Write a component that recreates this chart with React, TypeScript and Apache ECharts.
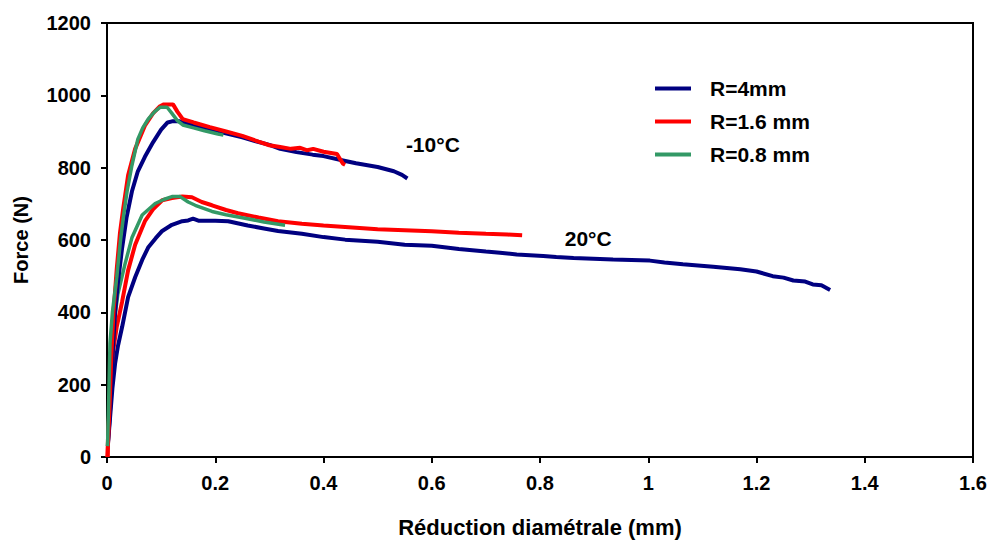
import React, { useEffect, useRef } from "react";
import * as echarts from "echarts";

const xTicks = { min: 0, max: 1.6, interval: 0.2 };
const yTicks = { min: 0, max: 1200, interval: 200 };

const legendNames = ["R=4mm", "R=1.6 mm", "R=0.8 mm"];
const colors = ["#000080", "#ff0000", "#339966"];

// -10°C curves
const blueMinus10: number[][] = [
  [0.002, 45], [0.005, 110], [0.008, 200], [0.011, 300], [0.015, 400], [0.02, 480],
  [0.028, 579], [0.036, 661], [0.046, 734], [0.057, 790], [0.07, 830], [0.085, 870],
  [0.1, 905], [0.112, 925], [0.12, 928], [0.135, 928], [0.15, 922], [0.175, 912],
  [0.2, 902], [0.225, 893], [0.25, 884], [0.275, 873], [0.3, 863], [0.32, 852],
  [0.35, 843], [0.38, 836], [0.4, 832], [0.436, 820], [0.46, 812], [0.5, 802],
  [0.53, 790], [0.545, 780], [0.555, 770],
];
const redMinus10: number[][] = [
  [0.001, 0], [0.002, 40], [0.005, 150], [0.008, 280], [0.012, 400], [0.018, 520],
  [0.024, 620], [0.03, 688], [0.039, 779], [0.052, 852], [0.07, 916], [0.085, 950],
  [0.098, 970], [0.105, 975], [0.122, 975], [0.13, 955], [0.14, 934], [0.16, 925],
  [0.19, 912], [0.22, 900], [0.25, 888], [0.28, 872], [0.3, 862], [0.32, 857],
  [0.34, 852], [0.357, 855], [0.37, 848], [0.381, 852], [0.4, 844], [0.425, 838],
  [0.43, 825], [0.436, 811], [0.44, 808],
];
const greenMinus10: number[][] = [
  [0.001, 30], [0.003, 150], [0.0055, 314], [0.01, 400], [0.018, 497], [0.025, 600],
  [0.03, 660], [0.037, 734], [0.046, 806], [0.057, 879], [0.066, 910], [0.076, 934],
  [0.088, 955], [0.098, 967], [0.111, 967], [0.12, 950], [0.13, 930], [0.14, 918],
  [0.16, 910], [0.18, 902], [0.205, 893], [0.215, 890],
];

// 20°C curves
const blue20: number[][] = [
  [0.002, 40], [0.0055, 106], [0.01, 190], [0.015, 259], [0.02, 305], [0.028, 360],
  [0.039, 442], [0.052, 497], [0.065, 545], [0.076, 579], [0.09, 605], [0.102, 625],
  [0.12, 642], [0.139, 652], [0.15, 654], [0.159, 659], [0.17, 653], [0.2, 653],
  [0.224, 652], [0.26, 640], [0.29, 632], [0.316, 625], [0.36, 617], [0.4, 608],
  [0.44, 601], [0.5, 595], [0.55, 587], [0.6, 584], [0.65, 575], [0.7, 568],
  [0.726, 565], [0.757, 560], [0.806, 556], [0.83, 553], [0.862, 550], [0.935, 546],
  [1.003, 543], [1.03, 538], [1.064, 533], [1.12, 526], [1.17, 519], [1.2, 513],
  [1.23, 500], [1.25, 496], [1.268, 488], [1.29, 485], [1.304, 477], [1.32, 475],
  [1.336, 462],
];
const red20: number[][] = [
  [0.001, 0], [0.002, 60], [0.006, 190], [0.011, 290], [0.018, 360], [0.028, 430],
  [0.039, 516], [0.052, 587], [0.07, 652], [0.085, 685], [0.102, 710], [0.12, 716],
  [0.139, 720], [0.157, 718], [0.175, 705], [0.194, 696], [0.22, 683], [0.242, 674],
  [0.28, 662], [0.316, 652], [0.36, 645], [0.4, 640], [0.44, 636], [0.5, 630],
  [0.55, 627], [0.6, 624], [0.65, 620], [0.7, 617], [0.74, 615], [0.767, 613],
];
const green20: number[][] = [
  [0.001, 30], [0.002, 60], [0.005, 180], [0.009, 297], [0.014, 380], [0.02, 450],
  [0.033, 532], [0.046, 606], [0.065, 669], [0.089, 701], [0.105, 712], [0.12, 720],
  [0.135, 720], [0.15, 705], [0.163, 696], [0.194, 679], [0.22, 670], [0.255, 660],
  [0.29, 650], [0.329, 641],
];

const annotations = [
  { text: "-10°C", coord: [0.602, 863] },
  { text: "20°C", coord: [0.889, 603] },
];

const FONT = "'Liberation Sans', Arial, sans-serif";

export default function App() {
  const ref = useRef<HTMLDivElement>(null);
  useEffect(() => {
    if (!ref.current) return;
    const chart = echarts.init(ref.current, null, { renderer: "svg" });
    const mk = (name: string, color: string, data: number[][], width: number, extra: any = {}) => ({
      type: "line",
      name,
      data,
      showSymbol: false,
      symbol: "none",
      lineStyle: { color, width },
      itemStyle: { color },
      z: 3,
      ...extra,
    });
    chart.setOption({
      animation: false,
      backgroundColor: "#ffffff",
      textStyle: { fontFamily: FONT },
      grid: {
        left: 107,
        right: 19,
        top: 23,
        bottom: 81,
        show: true,
        borderColor: "#000",
        borderWidth: 2,
        backgroundColor: "transparent",
      },
      legend: {
        data: legendNames,
        orient: "vertical",
        left: 650,
        top: 73,
        itemWidth: 36,
        itemHeight: 4,
        itemGap: 12,
        icon: "rect",
        selectedMode: false,
        textStyle: {
          fontFamily: FONT,
          fontWeight: "bold",
          fontSize: 21,
          color: "#000",
          padding: [0, 0, 0, 14],
          lineHeight: 20,
        },
      },
      xAxis: {
        type: "value",
        min: xTicks.min,
        max: xTicks.max,
        interval: xTicks.interval,
        name: "Réduction diamétrale (mm)",
        nameLocation: "middle",
        nameGap: 59,
        nameTextStyle: { fontFamily: FONT, fontWeight: "bold", fontSize: 22, color: "#000" },
        axisLine: { show: true, lineStyle: { color: "#000", width: 2 } },
        axisTick: { show: true, length: 6, lineStyle: { color: "#000", width: 2 } },
        axisLabel: {
          fontFamily: FONT, fontWeight: "bold", fontSize: 20, color: "#000", margin: 16,
          formatter: (v: number) => String(Math.round(v * 10) / 10),
        },
        splitLine: { show: false },
      },
      yAxis: {
        type: "value",
        min: yTicks.min,
        max: yTicks.max,
        interval: yTicks.interval,
        name: "Force (N)",
        nameLocation: "middle",
        nameGap: 76,
        nameRotate: 90,
        nameTextStyle: { fontFamily: FONT, fontWeight: "bold", fontSize: 20, color: "#000" },
        axisLine: { show: true, lineStyle: { color: "#000", width: 2 } },
        axisTick: { show: true, length: 6, lineStyle: { color: "#000", width: 2 } },
        axisLabel: {
          fontFamily: FONT, fontWeight: "bold", fontSize: 20, color: "#000", margin: 16,
          formatter: (v: number) => String(v),
        },
        splitLine: { show: false },
      },
      series: [
        mk(legendNames[0], colors[0], blue20, 4, {
          markPoint: {
            symbol: "circle",
            symbolSize: 0,
            silent: true,
            label: {
              show: true,
              position: "inside",
              formatter: (p: any) => p.name,
              fontFamily: FONT,
              fontWeight: "bold",
              fontSize: 21,
              color: "#000",
            },
            data: annotations.map((a) => ({ name: a.text, coord: a.coord })),
          },
        }),
        mk(legendNames[1], colors[1], red20, 4),
        mk(legendNames[2], colors[2], green20, 3.5),
        mk(legendNames[0], colors[0], blueMinus10, 4),
        mk(legendNames[1], colors[1], redMinus10, 4),
        mk(legendNames[2], colors[2], greenMinus10, 3.5),
      ],
    });
    return () => chart.dispose();
  }, []);
  return <div ref={ref} style={{ width: 992, height: 543, position: "absolute", left: 0, top: 0 }} />;
}
